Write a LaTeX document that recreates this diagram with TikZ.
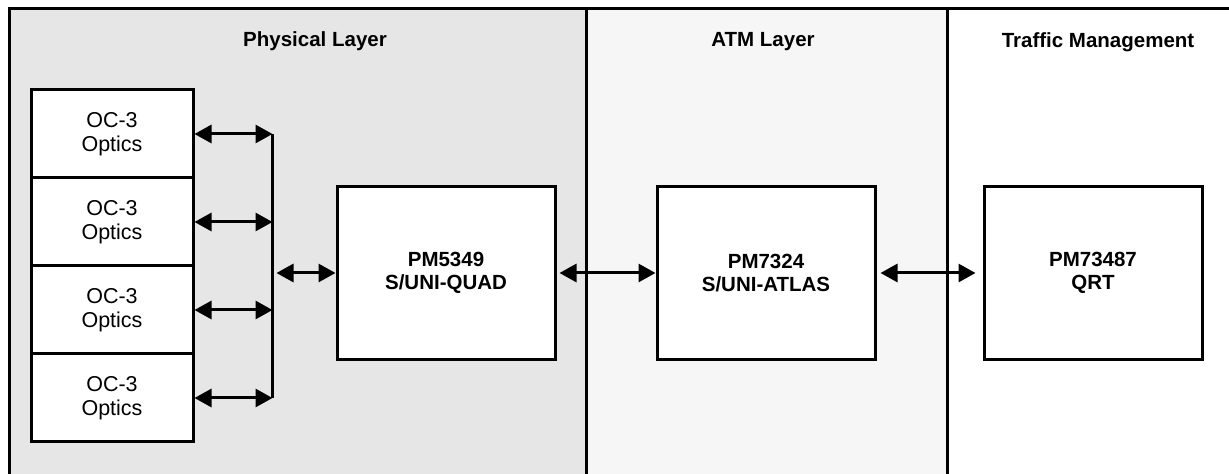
\documentclass[tikz,border=0pt]{standalone}
\usepackage{fontspec}
\setmainfont{Liberation Sans}
\usetikzlibrary{positioning,arrows.meta}
\definecolor{physgray}{HTML}{E6E6E6}
\definecolor{atmgray}{HTML}{F6F6F6}

\tikzset{
	pane/.style={line width=1.5pt},
	optic/.style={draw, fill=white, line width=1.5pt, minimum width=81pt, minimum height=44pt, inner sep=0pt, align=center, font=\fontsize{10.75}{12}\selectfont},
	chip/.style={draw, fill=white, line width=1.5pt, minimum width=109pt, minimum height=86.5pt, inner sep=0pt, align=center, font=\bfseries\fontsize{10.25}{11.5}\selectfont},
	title/.style={anchor=base, font=\bfseries\fontsize{10.25}{11.5}\selectfont},
	link/.style={{Triangle[length=8.5pt,width=9pt]}-{Triangle[length=8.5pt,width=9pt]}, line width=1.5pt},
}

\begin{document}
\begin{tikzpicture}[x=0.5pt, y=-0.5pt]
	\useasboundingbox (0,0) rectangle (1229,474);

	\fill[physgray] (9,9) rectangle (586,480);
	\fill[atmgray] (586,9) rectangle (947,480);
	\draw[pane] (9,480) -- (9,9) -- (1235,9);
	\draw[pane] (586,9) -- (586,480);
	\draw[pane] (947,9) -- (947,480);

	\node[title] (phys) at (315,46.5) {Physical Layer};
	\node[title] (atm) at (763,46.5) {ATM Layer};
	\node[title] (traffic) at (1098,48) {Traffic Management};

	\node[optic] (o1) at (112,134) {OC-3\\Optics};
	\node[optic, below=-1.5pt of o1] (o2) {OC-3\\Optics};
	\node[optic, below=-1.5pt of o2] (o3) {OC-3\\Optics};
	\node[optic, below=-1.5pt of o3] (o4) {OC-3\\Optics};

	\node[chip] (quad) at (446,273) {PM5349\\S/UNI-QUAD};
	\node[chip] (atlas) at (766,273) {PM7324\\S/UNI-ATLAS};
	\node[chip] (qrt) at (1093,273) {PM73487\\QRT};

	\foreach \i in {1,...,4} {
		\coordinate[right=39pt of o\i] (b\i);
		\draw[link] (o\i) -- (b\i);
	}
	\draw[line width=1.5pt] (b1) -- (b4);
	\coordinate (bq) at (b1 |- quad);

	\draw[link, shorten <=2pt] (bq) -- (quad);
	\draw[link, shorten <=1.5pt] (quad) -- (atlas);
	\draw[link, shorten <=2pt, shorten >=3.5pt] (atlas) -- (qrt);
\end{tikzpicture}
\end{document}
